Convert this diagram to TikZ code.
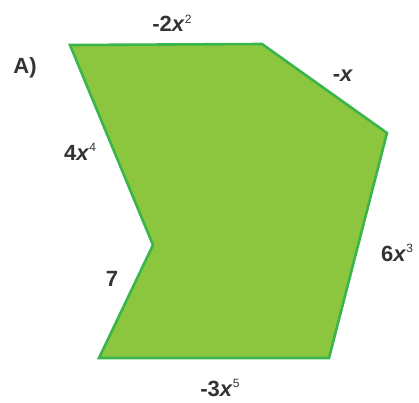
\documentclass[tikz,border=0pt]{standalone}
\usepackage{fontspec}
\setmainfont{Liberation Sans}
\usetikzlibrary{positioning}
\definecolor{shapeGreen}{RGB}{140,198,63}
\definecolor{edgeGreen}{RGB}{57,181,74}
\definecolor{labelGray}{RGB}{51,51,51}
\newcommand{\pw}[1]{\raisebox{0.38em}{\mdseries\fontsize{12}{12}\selectfont #1}}

\begin{document}
\begin{tikzpicture}[
    x=1pt, y=-1pt,
    font=\fontsize{22}{24}\selectfont\bfseries,
    lbl/.style={text=labelGray, inner sep=0pt},
    poly/.style={fill=shapeGreen, draw=edgeGreen, line width=2.6pt, line join=miter},
  ]
    \useasboundingbox (0,0) rectangle (419,402);
    \coordinate (tl) at (70,45);
    \coordinate (tr) at (262,44);
    \coordinate (rt) at (387,133);
    \coordinate (br) at (329,358);
    \coordinate (bl) at (99,358);
    \coordinate (notch) at (153,245);
    \draw[poly] (tl) -- (tr) -- (rt) -- (br) -- (bl) -- (notch) -- cycle;
    \node[lbl] (name) at (25,68) {A)};
    \node[lbl] (top) at (172,23) {-2\textit{x}\pw{2}};
    \node[lbl] (diag) at (343,76) {-\textit{x}};
    \node[lbl] (left) at (80,152) {4\textit{x}\pw{4}};
    \node[lbl] (right) at (397,253) {6\textit{x}\pw{3}};
    \node[lbl] (seven) at (112,279) {7};
    \node[lbl] (bottom) at (220,388) {-3\textit{x}\pw{5}};
  \end{tikzpicture}
\end{document}
